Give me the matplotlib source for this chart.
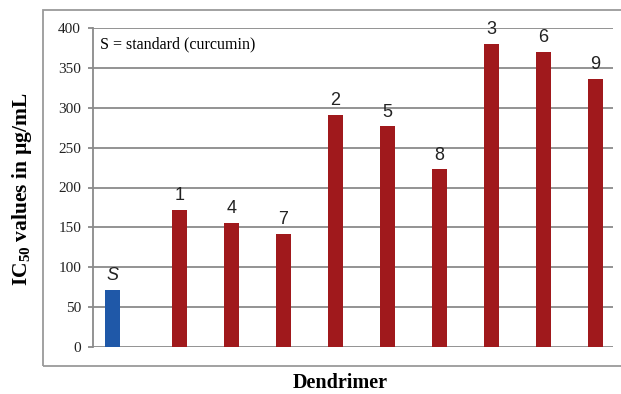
import numpy as np
import matplotlib.pyplot as plt
from matplotlib.patches import Rectangle

# data
labels = ['S', '1', '4', '7', '2', '5', '8', '3', '6', '9']
values = [72, 172, 156, 142, 291, 277, 223, 380, 370, 336]
colors = ['#1F58A8'] + ['#A0191C'] * 9
# S sits a bit left inside its slot, compounds a bit right (Excel style)
offsets = [0.38] + [0.66] * 9
yticks = [0, 50, 100, 150, 200, 250, 300, 350, 400]

serif = ['Liberation Serif', 'DejaVu Serif']
sans = ['Liberation Sans', 'DejaVu Sans']
plt.rcParams['mathtext.fontset'] = 'custom'
plt.rcParams['mathtext.rm'] = 'Liberation Serif:bold'
plt.rcParams['mathtext.default'] = 'rm'

fig = plt.figure(figsize=(6.21, 3.94), dpi=100)
ax = fig.add_axes([93 / 621, 1 - 347 / 394, 520 / 621, 319 / 394])

x = np.arange(len(labels)) + np.array(offsets)
bars = ax.bar(x, values, width=0.29, color=colors, zorder=3)

for xi, v, lab in zip(x, values, labels):
    ax.annotate(lab, (xi, v), xytext=(0, 4), textcoords='offset points',
                ha='center', va='bottom', fontsize=13, family=sans,
                color='#222222', style='italic' if lab == 'S' else 'normal')

ax.set_xlim(0, 10)
ax.set_ylim(0, 400)
ax.set_yticks(yticks)
ax.set_xticks([])
ax.yaxis.grid(True, color='#8a8a8a', linewidth=1.3, zorder=0)
ax.set_axisbelow(True)
for s in ['top', 'right', 'bottom']:
    ax.spines[s].set_visible(False)
ax.spines['left'].set_color('#8a8a8a')
ax.spines['left'].set_linewidth(1.3)
ax.tick_params(axis='y', length=3.6, width=1.3, color='#8a8a8a', pad=5,
               labelsize=11, labelcolor='#222222')
for t in ax.get_yticklabels():
    t.set_family(serif)

ax.text(0.013, 0.95, 'S = standard (curcumin)', transform=ax.transAxes,
        fontsize=11.5, family=serif, ha='left', va='center')

fig.text(22 / 621, 1 - 189 / 394, 'IC$_{50}$ values in \u00b5g/mL',
         rotation=90, ha='center', va='center', fontsize=15.5,
         fontweight='bold', family=serif)
fig.text(340 / 621, 1 - 383 / 394, 'Dendrimer', ha='center', va='center',
         fontsize=14.5, fontweight='bold', family=serif)

# outer chart-area border
fig.patches.append(Rectangle((43 / 621, 1 - 366 / 394), 600 / 621, 356 / 394,
                             transform=fig.transFigure, fill=False,
                             edgecolor='#9a9a9a', linewidth=1.3))

fig.savefig('out.png', dpi=100)
